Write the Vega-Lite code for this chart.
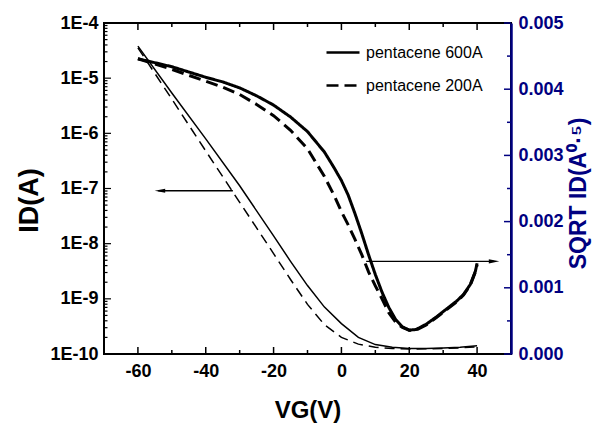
{
  "$schema": "https://vega.github.io/schema/vega-lite/v6.json",
  "width": 407,
  "height": 331,
  "autosize": "none",
  "padding": {"left": 104, "top": 23, "right": 82, "bottom": 71},
  "background": "white",
  "config": {
    "view": {"stroke": "black", "strokeWidth": 2},
    "font": "Liberation Sans",
    "axis": {"grid": false, "domain": false, "ticks": false, "labelOverlap": false, "labelBound": false, "labelFlush": false, "labelFont": "Liberation Sans", "titleFont": "Liberation Sans"}
  },
  "datasets": {
    "id": [
      {"sample": "pentacene 600A", "VG": -60, "ID": 3.8e-5},
      {"sample": "pentacene 600A", "VG": -50, "ID": 5.37e-6},
      {"sample": "pentacene 600A", "VG": -40, "ID": 7.94e-7},
      {"sample": "pentacene 600A", "VG": -30, "ID": 1.12e-7},
      {"sample": "pentacene 600A", "VG": -20, "ID": 1.38e-8},
      {"sample": "pentacene 600A", "VG": -15, "ID": 4.79e-9},
      {"sample": "pentacene 600A", "VG": -10, "ID": 1.74e-9},
      {"sample": "pentacene 600A", "VG": -5, "ID": 7.08e-10},
      {"sample": "pentacene 600A", "VG": 0, "ID": 3.55e-10},
      {"sample": "pentacene 600A", "VG": 5, "ID": 2.0e-10},
      {"sample": "pentacene 600A", "VG": 10, "ID": 1.48e-10},
      {"sample": "pentacene 600A", "VG": 15, "ID": 1.32e-10},
      {"sample": "pentacene 600A", "VG": 20, "ID": 1.26e-10},
      {"sample": "pentacene 600A", "VG": 25, "ID": 1.26e-10},
      {"sample": "pentacene 600A", "VG": 30, "ID": 1.29e-10},
      {"sample": "pentacene 600A", "VG": 35, "ID": 1.32e-10},
      {"sample": "pentacene 600A", "VG": 40, "ID": 1.41e-10},
      {"sample": "pentacene 200A", "VG": -60, "ID": 3.55e-5},
      {"sample": "pentacene 200A", "VG": -50, "ID": 4.17e-6},
      {"sample": "pentacene 200A", "VG": -40, "ID": 4.79e-7},
      {"sample": "pentacene 200A", "VG": -30, "ID": 5.62e-8},
      {"sample": "pentacene 200A", "VG": -20, "ID": 6.61e-9},
      {"sample": "pentacene 200A", "VG": -15, "ID": 2.24e-9},
      {"sample": "pentacene 200A", "VG": -10, "ID": 7.94e-10},
      {"sample": "pentacene 200A", "VG": -5, "ID": 3.39e-10},
      {"sample": "pentacene 200A", "VG": 0, "ID": 2.0e-10},
      {"sample": "pentacene 200A", "VG": 5, "ID": 1.51e-10},
      {"sample": "pentacene 200A", "VG": 10, "ID": 1.32e-10},
      {"sample": "pentacene 200A", "VG": 15, "ID": 1.26e-10},
      {"sample": "pentacene 200A", "VG": 20, "ID": 1.23e-10},
      {"sample": "pentacene 200A", "VG": 30, "ID": 1.26e-10},
      {"sample": "pentacene 200A", "VG": 35, "ID": 1.29e-10},
      {"sample": "pentacene 200A", "VG": 40, "ID": 1.35e-10}
    ],
    "sqrt": [
      {"sample": "pentacene 600A", "VG": -60, "SQRT": 0.00446},
      {"sample": "pentacene 600A", "VG": -55, "SQRT": 0.0044},
      {"sample": "pentacene 600A", "VG": -50, "SQRT": 0.00434},
      {"sample": "pentacene 600A", "VG": -45, "SQRT": 0.00426},
      {"sample": "pentacene 600A", "VG": -40, "SQRT": 0.00418},
      {"sample": "pentacene 600A", "VG": -35, "SQRT": 0.00411},
      {"sample": "pentacene 600A", "VG": -30, "SQRT": 0.00402},
      {"sample": "pentacene 600A", "VG": -25, "SQRT": 0.0039},
      {"sample": "pentacene 600A", "VG": -20, "SQRT": 0.00376},
      {"sample": "pentacene 600A", "VG": -15, "SQRT": 0.00358},
      {"sample": "pentacene 600A", "VG": -10, "SQRT": 0.00336},
      {"sample": "pentacene 600A", "VG": -5, "SQRT": 0.00305},
      {"sample": "pentacene 600A", "VG": -2, "SQRT": 0.0028},
      {"sample": "pentacene 600A", "VG": 0, "SQRT": 0.00262},
      {"sample": "pentacene 600A", "VG": 2, "SQRT": 0.0024},
      {"sample": "pentacene 600A", "VG": 4, "SQRT": 0.00212},
      {"sample": "pentacene 600A", "VG": 6, "SQRT": 0.00182},
      {"sample": "pentacene 600A", "VG": 8, "SQRT": 0.0015},
      {"sample": "pentacene 600A", "VG": 10, "SQRT": 0.0012},
      {"sample": "pentacene 600A", "VG": 12, "SQRT": 0.00093},
      {"sample": "pentacene 600A", "VG": 14, "SQRT": 0.0007},
      {"sample": "pentacene 600A", "VG": 16, "SQRT": 0.00052},
      {"sample": "pentacene 600A", "VG": 18, "SQRT": 0.00041},
      {"sample": "pentacene 600A", "VG": 20, "SQRT": 0.00036},
      {"sample": "pentacene 600A", "VG": 22, "SQRT": 0.00037},
      {"sample": "pentacene 600A", "VG": 25, "SQRT": 0.00045},
      {"sample": "pentacene 600A", "VG": 28, "SQRT": 0.00056},
      {"sample": "pentacene 600A", "VG": 31, "SQRT": 0.00068},
      {"sample": "pentacene 600A", "VG": 34, "SQRT": 0.0008},
      {"sample": "pentacene 600A", "VG": 36, "SQRT": 0.0009},
      {"sample": "pentacene 600A", "VG": 38, "SQRT": 0.00105},
      {"sample": "pentacene 600A", "VG": 39.5, "SQRT": 0.00125},
      {"sample": "pentacene 600A", "VG": 40, "SQRT": 0.00137},
      {"sample": "pentacene 200A", "VG": -60, "SQRT": 0.00446},
      {"sample": "pentacene 200A", "VG": -55, "SQRT": 0.00438},
      {"sample": "pentacene 200A", "VG": -50, "SQRT": 0.0043},
      {"sample": "pentacene 200A", "VG": -45, "SQRT": 0.00421},
      {"sample": "pentacene 200A", "VG": -40, "SQRT": 0.00412},
      {"sample": "pentacene 200A", "VG": -35, "SQRT": 0.00403},
      {"sample": "pentacene 200A", "VG": -30, "SQRT": 0.00392},
      {"sample": "pentacene 200A", "VG": -25, "SQRT": 0.00377},
      {"sample": "pentacene 200A", "VG": -20, "SQRT": 0.0036},
      {"sample": "pentacene 200A", "VG": -15, "SQRT": 0.00338},
      {"sample": "pentacene 200A", "VG": -10, "SQRT": 0.0031},
      {"sample": "pentacene 200A", "VG": -5, "SQRT": 0.00268},
      {"sample": "pentacene 200A", "VG": -2, "SQRT": 0.00238},
      {"sample": "pentacene 200A", "VG": 0, "SQRT": 0.00215},
      {"sample": "pentacene 200A", "VG": 2, "SQRT": 0.00195},
      {"sample": "pentacene 200A", "VG": 4, "SQRT": 0.00173},
      {"sample": "pentacene 200A", "VG": 6, "SQRT": 0.0015},
      {"sample": "pentacene 200A", "VG": 8, "SQRT": 0.00124},
      {"sample": "pentacene 200A", "VG": 10, "SQRT": 0.00103},
      {"sample": "pentacene 200A", "VG": 12, "SQRT": 0.00083},
      {"sample": "pentacene 200A", "VG": 14, "SQRT": 0.00062},
      {"sample": "pentacene 200A", "VG": 16, "SQRT": 0.00048},
      {"sample": "pentacene 200A", "VG": 18, "SQRT": 0.0004},
      {"sample": "pentacene 200A", "VG": 20, "SQRT": 0.00036},
      {"sample": "pentacene 200A", "VG": 22, "SQRT": 0.00036},
      {"sample": "pentacene 200A", "VG": 25, "SQRT": 0.00044},
      {"sample": "pentacene 200A", "VG": 28, "SQRT": 0.00055},
      {"sample": "pentacene 200A", "VG": 31, "SQRT": 0.00067},
      {"sample": "pentacene 200A", "VG": 34, "SQRT": 0.00079},
      {"sample": "pentacene 200A", "VG": 36, "SQRT": 0.00089},
      {"sample": "pentacene 200A", "VG": 38, "SQRT": 0.00104},
      {"sample": "pentacene 200A", "VG": 39.5, "SQRT": 0.00124},
      {"sample": "pentacene 200A", "VG": 40, "SQRT": 0.00135}
    ],
    "xticks": [
      {"VG": -60, "kind": "major"}, {"VG": -50, "kind": "minor"}, {"VG": -40, "kind": "major"}, {"VG": -30, "kind": "minor"},
      {"VG": -20, "kind": "major"}, {"VG": -10, "kind": "minor"}, {"VG": 0, "kind": "major"}, {"VG": 10, "kind": "minor"},
      {"VG": 20, "kind": "major"}, {"VG": 30, "kind": "minor"}, {"VG": 40, "kind": "major"}
    ],
    "logticks": [
      {"ID": 1e-10, "kind": "major"}, {"ID": 2e-10, "kind": "minor"}, {"ID": 3e-10, "kind": "minor"}, {"ID": 4e-10, "kind": "minor"}, {"ID": 5e-10, "kind": "minor"}, {"ID": 6e-10, "kind": "minor"}, {"ID": 7e-10, "kind": "minor"}, {"ID": 8e-10, "kind": "minor"}, {"ID": 9e-10, "kind": "minor"},
      {"ID": 1e-9, "kind": "major"}, {"ID": 2e-9, "kind": "minor"}, {"ID": 3e-9, "kind": "minor"}, {"ID": 4e-9, "kind": "minor"}, {"ID": 5e-9, "kind": "minor"}, {"ID": 6e-9, "kind": "minor"}, {"ID": 7e-9, "kind": "minor"}, {"ID": 8e-9, "kind": "minor"}, {"ID": 9e-9, "kind": "minor"},
      {"ID": 1e-8, "kind": "major"}, {"ID": 2e-8, "kind": "minor"}, {"ID": 3e-8, "kind": "minor"}, {"ID": 4e-8, "kind": "minor"}, {"ID": 5e-8, "kind": "minor"}, {"ID": 6e-8, "kind": "minor"}, {"ID": 7e-8, "kind": "minor"}, {"ID": 8e-8, "kind": "minor"}, {"ID": 9e-8, "kind": "minor"},
      {"ID": 1e-7, "kind": "major"}, {"ID": 2e-7, "kind": "minor"}, {"ID": 3e-7, "kind": "minor"}, {"ID": 4e-7, "kind": "minor"}, {"ID": 5e-7, "kind": "minor"}, {"ID": 6e-7, "kind": "minor"}, {"ID": 7e-7, "kind": "minor"}, {"ID": 8e-7, "kind": "minor"}, {"ID": 9e-7, "kind": "minor"},
      {"ID": 1e-6, "kind": "major"}, {"ID": 2e-6, "kind": "minor"}, {"ID": 3e-6, "kind": "minor"}, {"ID": 4e-6, "kind": "minor"}, {"ID": 5e-6, "kind": "minor"}, {"ID": 6e-6, "kind": "minor"}, {"ID": 7e-6, "kind": "minor"}, {"ID": 8e-6, "kind": "minor"}, {"ID": 9e-6, "kind": "minor"},
      {"ID": 1e-5, "kind": "major"}, {"ID": 2e-5, "kind": "minor"}, {"ID": 3e-5, "kind": "minor"}, {"ID": 4e-5, "kind": "minor"}, {"ID": 5e-5, "kind": "minor"}, {"ID": 6e-5, "kind": "minor"}, {"ID": 7e-5, "kind": "minor"}, {"ID": 8e-5, "kind": "minor"}, {"ID": 9e-5, "kind": "minor"},
      {"ID": 1e-4, "kind": "major"}
    ],
    "linticks": [
      {"SQRT": 0, "kind": "major"}, {"SQRT": 0.0005, "kind": "minor"}, {"SQRT": 0.001, "kind": "major"}, {"SQRT": 0.0015, "kind": "minor"},
      {"SQRT": 0.002, "kind": "major"}, {"SQRT": 0.0025, "kind": "minor"}, {"SQRT": 0.003, "kind": "major"}, {"SQRT": 0.0035, "kind": "minor"},
      {"SQRT": 0.004, "kind": "major"}, {"SQRT": 0.0045, "kind": "minor"}, {"SQRT": 0.005, "kind": "major"}
    ],
    "arrowLeft": [{"from": -32, "to": -54, "head": -53.5, "ID": 9.1e-8}],
    "arrowRight": [{"from": 7.3, "to": 45, "head": 45, "SQRT": 0.0014}]
  },
  "layer": [
    {
      "layer": [
        {
          "data": {"name": "id"},
          "transform": [{"filter": "datum.sample === 'pentacene 600A'"}],
          "mark": {"type": "line", "color": "black", "strokeWidth": 1.5, "clip": true},
          "encoding": {
            "x": {"field": "VG", "type": "quantitative", "scale": {"domain": [-70, 50], "nice": false, "zero": false},
              "axis": {"orient": "bottom", "values": [-60, -40, -20, 0, 20, 40],
                "labelExpr": "'' + datum.value",
                "labelFontSize": 18, "labelFontWeight": "bold", "labelColor": "black", "labelPadding": 8,
                "title": "VG(V)", "titleFontSize": 24, "titleFontWeight": "bold", "titleColor": "black",
                "titleBaseline": "alphabetic", "titleX": 203.5, "titleY": 63, "titleAlign": "center"}},
            "y": {"field": "ID", "type": "quantitative", "scale": {"type": "log", "domain": [1e-10, 1e-4], "nice": false},
              "axis": {"orient": "left",
                "values": [1e-10, 1e-9, 1e-8, 1e-7, 1e-6, 1e-5, 1e-4],
                "labelExpr": "'1E' + round(log(datum.value)/LN10)",
                "labelFontSize": 18, "labelFontWeight": "bold", "labelColor": "black", "labelPadding": 6,
                "title": "ID(A)", "titleFontSize": 27, "titleFontWeight": "bold", "titleColor": "black",
                "titleBaseline": "alphabetic", "titleAngle": -90, "titleX": -67, "titleY": 177, "titleAlign": "center"}}
          }
        },
        {
          "data": {"name": "id"},
          "transform": [{"filter": "datum.sample === 'pentacene 200A'"}],
          "mark": {"type": "line", "color": "black", "strokeWidth": 1.5, "strokeDash": [10, 6], "clip": true},
          "encoding": {
            "x": {"field": "VG", "type": "quantitative", "axis": null},
            "y": {"field": "ID", "type": "quantitative", "axis": null}
          }
        },
        {
          "data": {"name": "xticks"},
          "mark": {"type": "point", "shape": "M0,0L0,-1", "filled": false, "color": "black", "strokeWidth": 1.5, "opacity": 1},
          "encoding": {
            "x": {"field": "VG", "type": "quantitative", "axis": null},
            "y": {"datum": 1e-10, "type": "quantitative", "axis": null},
            "size": {"condition": {"test": "datum.kind === 'major'", "value": 196}, "value": 64}
          }
        },
        {
          "data": {"name": "xticks"},
          "mark": {"type": "point", "shape": "M0,0L0,1", "filled": false, "color": "black", "strokeWidth": 1.5, "opacity": 1},
          "encoding": {
            "x": {"field": "VG", "type": "quantitative", "axis": null},
            "y": {"datum": 1e-4, "type": "quantitative", "axis": null},
            "size": {"condition": {"test": "datum.kind === 'major'", "value": 196}, "value": 64}
          }
        },
        {
          "data": {"name": "logticks"},
          "mark": {"type": "point", "shape": "M0,0L1,0", "filled": false, "color": "black", "strokeWidth": 1.2, "opacity": 1},
          "encoding": {
            "x": {"datum": -70, "type": "quantitative", "axis": null},
            "y": {"field": "ID", "type": "quantitative", "axis": null},
            "size": {"condition": {"test": "datum.kind === 'major'", "value": 196}, "value": 49}
          }
        },
        {
          "data": {"name": "arrowLeft"},
          "mark": {"type": "rule", "color": "black", "strokeWidth": 1.3},
          "encoding": {
            "x": {"field": "from", "type": "quantitative", "axis": null},
            "x2": {"field": "to"},
            "y": {"field": "ID", "type": "quantitative", "axis": null}
          }
        },
        {
          "data": {"name": "arrowLeft"},
          "mark": {"type": "point", "shape": "M-1,0L1,-0.4L1,0.4Z", "filled": true, "color": "black", "opacity": 1, "size": 110},
          "encoding": {
            "x": {"field": "head", "type": "quantitative", "axis": null},
            "y": {"field": "ID", "type": "quantitative", "axis": null}
          }
        }
      ],
      "resolve": {"axis": {"x": "independent", "y": "independent"}}
    },
    {
      "layer": [
        {
          "data": {"name": "sqrt"},
          "mark": {"type": "line", "color": "black", "strokeWidth": 3, "clip": true},
          "encoding": {
            "x": {"field": "VG", "type": "quantitative", "axis": null},
            "y": {"field": "SQRT", "type": "quantitative", "scale": {"domain": [0, 0.005], "nice": false},
              "axis": {"orient": "right", "values": [0, 0.001, 0.002, 0.003, 0.004, 0.005],
                "format": ".3f", "domain": true, "domainColor": "#000080", "domainWidth": 2.5,
                "labelFontSize": 18, "labelFontWeight": "bold", "labelColor": "#000080", "labelPadding": 7,
                "title": "SQRT ID(A⁰·⁵)", "titleFontSize": 23, "titleFontWeight": "bold", "titleColor": "#000080",
                "titleBaseline": "alphabetic", "titleAngle": 270, "titleX": 74, "titleY": 170, "titleAlign": "center"}},
            "strokeDash": {"field": "sample", "type": "nominal",
              "scale": {"domain": ["pentacene 600A", "pentacene 200A"], "range": [[1, 0], [12, 6]]},
              "legend": {"orient": "none", "legendX": 221, "legendY": 11.5, "title": null, "padding": 0,
                "symbolType": "stroke", "symbolSize": 1089, "symbolStrokeWidth": 2.5, "symbolStrokeColor": "black",
                "labelFont": "Liberation Sans", "labelFontSize": 16, "labelColor": "black", "labelOffset": 5, "rowPadding": 7}}
          }
        },
        {
          "data": {"name": "linticks"},
          "mark": {"type": "point", "shape": "M0,0L-1,0", "filled": false, "color": "#000080", "strokeWidth": 1.5, "opacity": 1},
          "encoding": {
            "x": {"datum": 50, "type": "quantitative", "axis": null},
            "y": {"field": "SQRT", "type": "quantitative", "axis": null},
            "size": {"condition": {"test": "datum.kind === 'major'", "value": 196}, "value": 64}
          }
        },
        {
          "data": {"name": "arrowRight"},
          "mark": {"type": "rule", "color": "black", "strokeWidth": 1.3},
          "encoding": {
            "x": {"field": "from", "type": "quantitative", "axis": null},
            "x2": {"field": "to"},
            "y": {"field": "SQRT", "type": "quantitative", "axis": null}
          }
        },
        {
          "data": {"name": "arrowRight"},
          "mark": {"type": "point", "shape": "M1,0L-1,-0.4L-1,0.4Z", "filled": true, "color": "black", "opacity": 1, "size": 110},
          "encoding": {
            "x": {"field": "head", "type": "quantitative", "axis": null},
            "y": {"field": "SQRT", "type": "quantitative", "axis": null}
          }
        }
      ],
      "resolve": {"axis": {"x": "independent", "y": "independent"}}
    }
  ],
  "resolve": {"scale": {"y": "independent"}, "axis": {"x": "independent", "y": "independent"}}
}
